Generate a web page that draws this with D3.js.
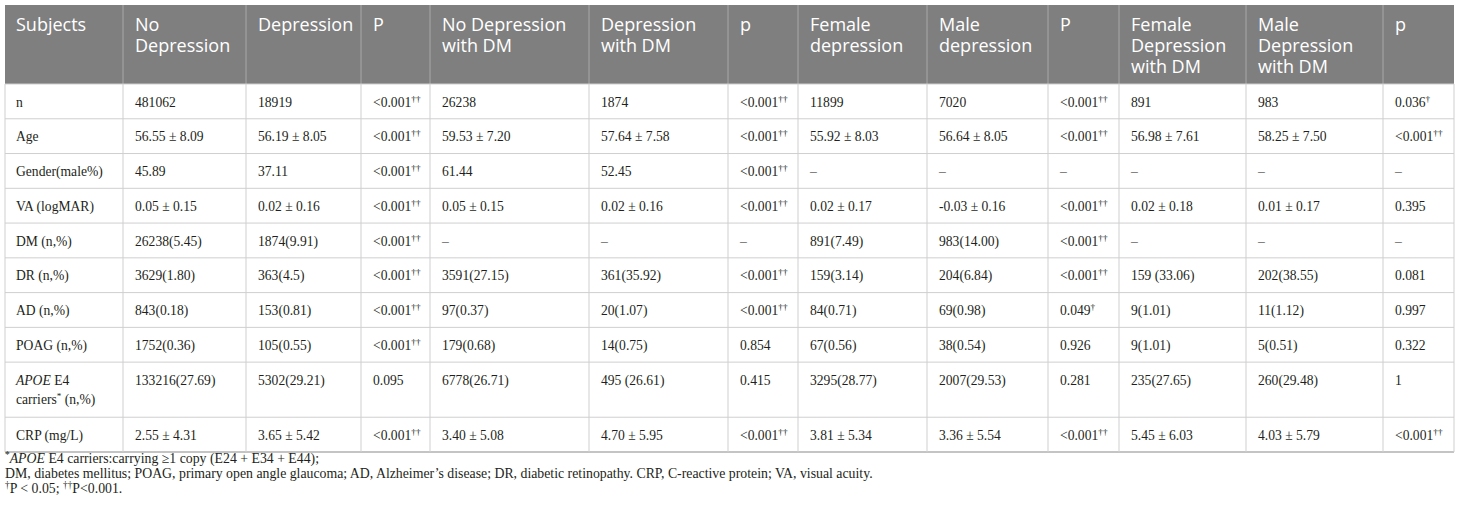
<!DOCTYPE html>
<html>
<head>
<meta charset="utf-8">
<script src="https://cdn.jsdelivr.net/npm/d3@7"></script>
<style>
  html, body { margin: 0; padding: 0; background: #ffffff; }
  svg { display: block; }
</style>
</head>
<body>
<svg id="chart" width="1460" height="514"></svg>
<script>
// ---------------- data ----------------
const headers = ["Subjects", "No\nDepression", "Depression", "P", "No Depression\nwith DM", "Depression\nwith DM", "p",
  "Female\ndepression", "Male\ndepression", "P", "Female\nDepression\nwith DM", "Male\nDepression\nwith DM", "p"];

const rowLabels = ["n", "Age", "Gender(male%)", "VA (logMAR)", "DM (n,%)", "DR (n,%)", "AD (n,%)", "POAG (n,%)",
  "APOE E4\ncarriers* (n,%)", "CRP (mg/L)"];

const nRow      = ["481062", "18919", "<0.001††", "26238", "1874", "<0.001††", "11899", "7020", "<0.001††", "891", "983", "0.036†"];
const ageRow    = ["56.55 ± 8.09", "56.19 ± 8.05", "<0.001††", "59.53 ± 7.20", "57.64 ± 7.58", "<0.001††", "55.92 ± 8.03", "56.64 ± 8.05", "<0.001††", "56.98 ± 7.61", "58.25 ± 7.50", "<0.001††"];
const genderRow = ["45.89", "37.11", "<0.001††", "61.44", "52.45", "<0.001††", "–", "–", "–", "–", "–", "–"];
const vaRow     = ["0.05 ± 0.15", "0.02 ± 0.16", "<0.001††", "0.05 ± 0.15", "0.02 ± 0.16", "<0.001††", "0.02 ± 0.17", "-0.03 ± 0.16", "<0.001††", "0.02 ± 0.18", "0.01 ± 0.17", "0.395"];
const dmRow     = ["26238(5.45)", "1874(9.91)", "<0.001††", "–", "–", "–", "891(7.49)", "983(14.00)", "<0.001††", "–", "–", "–"];
const drRow     = ["3629(1.80)", "363(4.5)", "<0.001††", "3591(27.15)", "361(35.92)", "<0.001††", "159(3.14)", "204(6.84)", "<0.001††", "159 (33.06)", "202(38.55)", "0.081"];
const adRow     = ["843(0.18)", "153(0.81)", "<0.001††", "97(0.37)", "20(1.07)", "<0.001††", "84(0.71)", "69(0.98)", "0.049†", "9(1.01)", "11(1.12)", "0.997"];
const poagRow   = ["1752(0.36)", "105(0.55)", "<0.001††", "179(0.68)", "14(0.75)", "0.854", "67(0.56)", "38(0.54)", "0.926", "9(1.01)", "5(0.51)", "0.322"];
const apoeRow   = ["133216(27.69)", "5302(29.21)", "0.095", "6778(26.71)", "495 (26.61)", "0.415", "3295(28.77)", "2007(29.53)", "0.281", "235(27.65)", "260(29.48)", "1"];
const crpRow    = ["2.55 ± 4.31", "3.65 ± 5.42", "<0.001††", "3.40 ± 5.08", "4.70 ± 5.95", "<0.001††", "3.81 ± 5.34", "3.36 ± 5.54", "<0.001††", "5.45 ± 6.03", "4.03 ± 5.79", "<0.001††"];

const footnotes = [
  "*APOE E4 carriers:carrying ≥1 copy (E24 + E34 + E44);",
  "DM, diabetes mellitus; POAG, primary open angle glaucoma; AD, Alzheimer’s disease; DR, diabetic retinopathy. CRP, C-reactive protein; VA, visual acuity.",
  "†P < 0.05; ††P<0.001."
];

const rows = [nRow, ageRow, genderRow, vaRow, dmRow, drRow, adRow, poagRow, apoeRow, crpRow];

// ---------------- layout ----------------
const svg = d3.select("#chart");
svg.append("rect").attr("width", 1460).attr("height", 514).attr("fill", "#ffffff");

const colWidths = [118, 123, 115, 69, 159, 139, 70, 129, 121, 71, 127, 137, 71];
const colEdges = [0, ...d3.cumsum(colWidths)];
const x = d3.scaleLinear().domain([0, colEdges[colEdges.length - 1]]).range([5, 1454]);

const headerTop = 5, headerH = 79;
const rowHeights = rowLabels.map(l => l.includes("\n") ? 55 : 34.7);
const rowEdges = [0, ...d3.cumsum(rowHeights)];
const y = d3.scaleLinear().domain([0, rowEdges[rowEdges.length - 1]]).range([headerTop + headerH, 452]);

const serif = "'Liberation Serif', 'Times New Roman', serif";
const sans = "'Open Sans', 'Noto Sans', sans-serif";
const textColor = "#231f20";

// header background
svg.append("rect")
  .attr("x", x(0)).attr("y", headerTop)
  .attr("width", x(colEdges[colEdges.length - 1]) - x(0)).attr("height", headerH)
  .attr("fill", "#7f7f7f");

// header separators
svg.append("g").selectAll("line")
  .data(colEdges.slice(1, -1))
  .join("line")
  .attr("x1", d => x(d)).attr("x2", d => x(d))
  .attr("y1", headerTop).attr("y2", headerTop + headerH)
  .attr("stroke", "#a9a9a9").attr("stroke-width", 1);

// header text (one text element per line)
const hg = svg.append("g").attr("font-family", sans).attr("font-size", 18).attr("fill", "#ffffff");
headers.forEach((h, i) => {
  h.split("\n").forEach((line, k) => {
    hg.append("text")
      .attr("x", x(colEdges[i]) + (i === 0 ? 11 : 12))
      .attr("y", headerTop + 26 + k * 21)
      .text(line);
  });
});

// body grid
const grid = svg.append("g").attr("stroke", "#cfcfcf").attr("stroke-width", 1);
rowEdges.slice(0, -1).forEach(r => {
  grid.append("line").attr("x1", x(0)).attr("x2", x(colEdges[colEdges.length - 1]))
    .attr("y1", y(r)).attr("y2", y(r));
});
grid.append("line").attr("x1", x(0)).attr("x2", x(colEdges[colEdges.length - 1]))
  .attr("y1", y(rowEdges[rowEdges.length - 1])).attr("y2", y(rowEdges[rowEdges.length - 1]))
  .attr("stroke", "#c4c4c4").attr("stroke-width", 2);
colEdges.forEach(c => {
  grid.append("line").attr("x1", x(c)).attr("x2", x(c))
    .attr("y1", y(0)).attr("y2", y(rowEdges[rowEdges.length - 1]));
});

// rich text helper: daggers/asterisk become superscripts, "APOE" italic
function addRich(textSel, str) {
  const re = /(APOE|[†*]+)/g;
  let last = 0, m;
  let pendingShift = 0;
  const push = (s, opts) => {
    if (!s) return;
    const ts = textSel.append("tspan").text(s);
    if (opts.italic) ts.attr("font-style", "italic");
    if (opts.sup) {
      ts.attr("font-size", "0.68em").attr("dy", -5);
      pendingShift = 5;
    } else if (pendingShift) {
      ts.attr("dy", pendingShift);
      pendingShift = 0;
    }
  };
  while ((m = re.exec(str)) !== null) {
    push(str.slice(last, m.index), {});
    if (m[0] === "APOE") push(m[0], { italic: true });
    else push(m[0], { sup: true });
    last = m.index + m[0].length;
  }
  push(str.slice(last), {});
}

// body text
const bg = svg.append("g").attr("font-family", serif).attr("font-size", 13.6).attr("fill", textColor);
rows.forEach((vals, r) => {
  const top = y(rowEdges[r]);
  rowLabels[r].split("\n").forEach((line, k) => {
    const t = bg.append("text").attr("x", x(0) + 11).attr("y", top + 22.5 + k * 19);
    addRich(t, line);
  });
  vals.forEach((v, c) => {
    const t = bg.append("text")
      .attr("x", x(colEdges[c + 1]) + 12)
      .attr("y", top + 22.5)
      .attr("fill", v === "–" ? "#666" : textColor);
    addRich(t, v);
  });
});

// footnotes
const fg = svg.append("g").attr("font-family", serif).attr("font-size", 13.8).attr("fill", textColor);
footnotes.forEach((f, i) => {
  const t = fg.append("text").attr("x", 5).attr("y", 463 + i * 14.8);
  addRich(t, f);
});
</script>
</body>
</html>
